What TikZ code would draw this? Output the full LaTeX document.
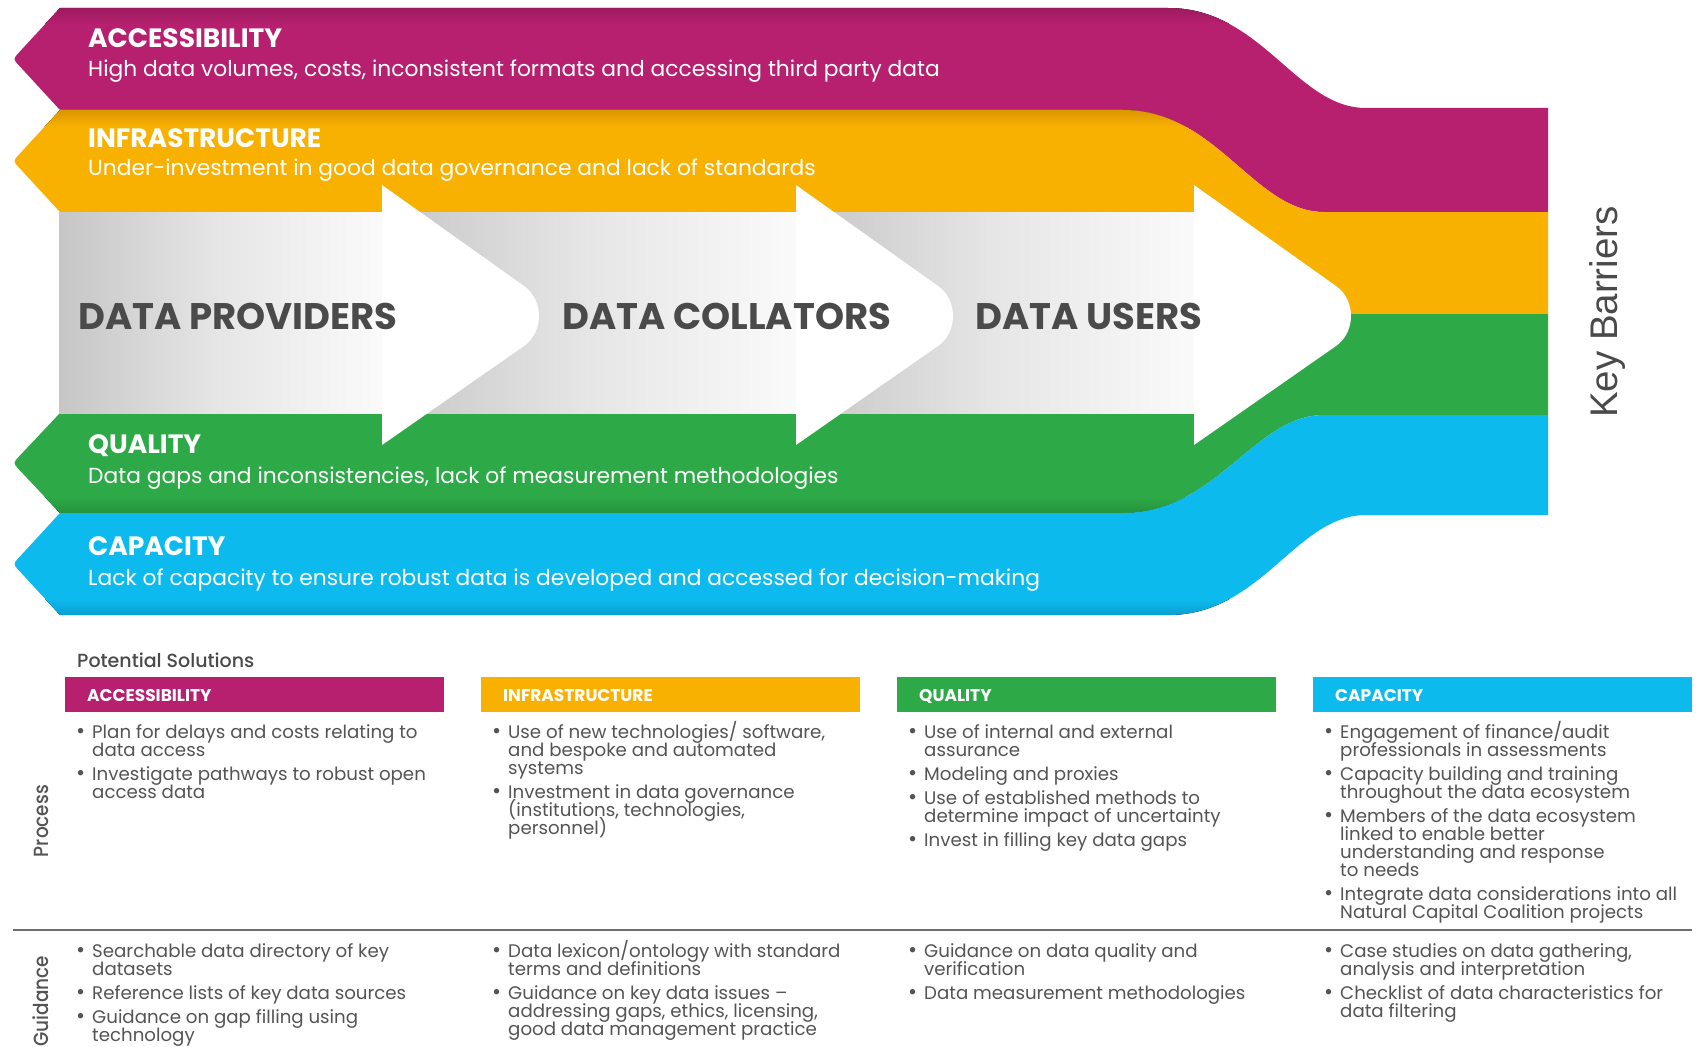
\documentclass[tikz,border=0pt]{standalone}
\usepackage{fontspec}
\setmainfont{Poppins}
\newfontfamily\kbfont{Liberation Sans}
\IfFontExistsTF{Poppins Medium}{\newfontfamily\medf{Poppins Medium}\newfontfamily\medfs{Poppins Medium}[FakeStretch=0.9]}{\newfontfamily\medf{Poppins}[FakeBold=0.6]\newfontfamily\medfs{Poppins}[FakeStretch=0.9,FakeBold=0.6]}
\definecolor{cmag}{HTML}{B6206F}
\definecolor{cmagd}{HTML}{9C1B5F}
\definecolor{cyel}{HTML}{F9B101}
\definecolor{cyeld}{HTML}{DA9700}
\definecolor{cgrn}{HTML}{2DAA47}
\definecolor{cgrnd}{HTML}{25923C}
\definecolor{ccya}{HTML}{0DBAED}
\definecolor{ccyad}{HTML}{0A9FD2}
\definecolor{txtd}{HTML}{4A4A4A}
\definecolor{txtb}{HTML}{545454}
\definecolor{bs0}{HTML}{C6C6C6}
\definecolor{bs2}{HTML}{E6E6E6}
\definecolor{bs3}{HTML}{FAFAFA}
\definecolor{sepc}{HTML}{6E6E6E}
\newcounter{tl}
\newcommand\bulp[1]{\stepcounter{tl}\node[bdotst] (bd\arabic{tl}) at ({\cx+11},#1) {•};}
\newcommand\txl[2]{\stepcounter{tl}\node[btxt] (tl\arabic{tl}) at ({\cx+27},#1) {#2};}
\newcommand\ahead[2]{\fill[white] (#1,185) -- ({#1+142},286) .. controls ({#1+162},300) and ({#1+162},332) .. ({#1+142},346) -- (#1,445) -- cycle;}
\def\pmag{(60,8) -- (1168,8) .. controls (1262,8) and (1296,108) .. (1366,108) -- (1548,108) -- (1548,212) -- (1324,212) .. controls (1254,212) and (1217,110) .. (1123,110) -- (60,110) -- (19.1,65.6) .. controls (13,59) .. (19.1,52.4) -- cycle}
\def\pyel{(60,110) -- (1123,110) .. controls (1217,110) and (1254,212) .. (1324,212) -- (1548,212) -- (1548,314) -- (1194,314) -- (1194,212) -- (60,212) -- (19.1,167.6) .. controls (13,161) .. (19.1,154.4) -- cycle}
\def\pgrn{(60,413) -- (1194,413) -- (1194,314) -- (1548,314) -- (1548,415) -- (1324,415) .. controls (1254,415) and (1217,513) .. (1123,513) -- (60,513) -- (19.1,469.6) .. controls (13,463) .. (19.1,456.4) -- cycle}
\def\pcya{(60,513) -- (1123,513) .. controls (1217,513) and (1254,415) .. (1324,415) -- (1548,415) -- (1548,515) -- (1366,515) .. controls (1296,515) and (1262,615) .. (1168,615) -- (60,615) -- (19.1,570.6) .. controls (13,564) .. (19.1,557.4) -- cycle}
\begin{document}
\begin{tikzpicture}[x=1pt,y=-1pt,
  btitle/.style={anchor=base west, text=white, inner sep=0pt, font=\bfseries\fontsize{26.5}{26.5}\selectfont},
  bsub/.style={anchor=base west, text=white, inner sep=0pt, font=\fontsize{21.8}{21.8}\selectfont},
  actor/.style={anchor=base west, text=txtd, inner sep=0pt, font=\bfseries\fontsize{37}{37}\selectfont},
  hdr/.style={anchor=base west, text=white, inner sep=0pt, font=\bfseries\fontsize{17}{17}\selectfont},
  btxt/.style={anchor=base west, text=txtb, inner sep=0pt, font=\fontsize{18.2}{18.2}\selectfont},
  bdotst/.style={anchor=base west, text=txtb, inner sep=0pt, font=\fontsize{22}{22}\selectfont},
  side/.style={rotate=90, anchor=center, text=txtb, inner sep=0pt, font=\medfs\fontsize{20.5}{20.5}\selectfont}]
\useasboundingbox (0,0) rectangle (1696,1046);
\fill[white] (0,0) rectangle (1696,1046);
% bands
\fill[cmag] \pmag;
\begin{scope}\clip \pmag; \fill[top color=cmagd, bottom color=cmag] (0,8) rectangle (1280,24);\end{scope}
\fill[cyel] \pyel;
\begin{scope}\clip \pyel; \fill[top color=cyeld, bottom color=cyel] (0,110) rectangle (1230,127);\end{scope}
\fill[cgrn] \pgrn;
\begin{scope}\clip \pgrn; \fill[top color=cgrn, bottom color=cgrnd] (0,497) rectangle (1230,513);\end{scope}
\fill[ccya] \pcya;
\begin{scope}\clip \pcya; \fill[top color=ccya, bottom color=ccyad] (0,599) rectangle (1280,615);\end{scope}
% arrow bodies
\fill[left color=bs0, right color=bs3, middle color=bs2] (59,212) rectangle (382,413);
\fill[left color=bs0, right color=bs3, middle color=bs2] (382,212) rectangle (796,413);
\fill[left color=bs0, right color=bs3, middle color=bs2] (796,212) rectangle (1194,413);
% arrow heads
\ahead{382}{a}
\ahead{796}{b}
\ahead{1194}{c}
% band texts
\node[btitle] (accT) at (88,48) {ACCESSIBILITY};
\node[bsub] (accS) at (88,77) {High data volumes, costs, inconsistent formats and accessing third party data};
\node[btitle] (infT) at (88,147) {INFRASTRUCTURE};
\node[bsub] (infS) at (88,175) {Under-investment in good data governance and lack of standards};
\node[btitle] (quaT) at (88,453) {QUALITY};
\node[bsub] (quaS) at (88,483) {Data gaps and inconsistencies, lack of measurement methodologies};
\node[btitle] (capT) at (88,555) {CAPACITY};
\node[bsub] (capS) at (88,585) {Lack of capacity to ensure robust data is developed and accessed for decision-making};
% actors
\node[actor] (prov) at (78,329) {DATA PROVIDERS};
\node[actor] (coll) at (562,329) {DATA COLLATORS};
\node[actor] (user) at (975,329) {DATA USERS};
% key barriers
\node[rotate=90, anchor=center, text=txtd, inner sep=0pt, font=\kbfont\fontsize{38.5}{38.5}\selectfont] (kb) at (1608,312) {Key Barriers};
% solutions
\node[anchor=base west, text=txtd, inner sep=0pt, font=\medf\fontsize{19}{19}\selectfont] (ps) at (77,667) {Potential Solutions};
\fill[cmag] (65,677) rectangle (444,712);
\fill[cyel] (481,677) rectangle (860,712);
\fill[cgrn] (897,677) rectangle (1276,712);
\fill[ccya] (1313,677) rectangle (1692,712);
\node[hdr] (h1) at (87,701) {ACCESSIBILITY};
\node[hdr] (h2) at (503,701) {INFRASTRUCTURE};
\node[hdr] (h3) at (919,701) {QUALITY};
\node[hdr] (h4) at (1335,701) {CAPACITY};
\coordinate (sepL) at (13,930);
\coordinate (sepR) at (1692,930);
\draw[sepc, line width=1.6pt] (sepL) -- (sepR);
\node[side] (proc) at (41,821) {Process};
\node[side] (guid) at (41,1001) {Guidance};
% column 1
\def\cx{65}
\bulp{738}\txl{738}{Plan for delays and costs relating to}\txl{756}{data access}
\bulp{780}\txl{780}{Investigate pathways to robust open}\txl{798}{access data}
\bulp{957}\txl{957}{Searchable data directory of key}\txl{975}{datasets}
\bulp{999}\txl{999}{Reference lists of key data sources}
\bulp{1023}\txl{1023}{Guidance on gap filling using}\txl{1041}{technology}
% column 2
\def\cx{481}
\bulp{738}\txl{738}{Use of new technologies/ software,}\txl{756}{and bespoke and automated}\txl{774}{systems}
\bulp{798}\txl{798}{Investment in data governance}\txl{816}{(institutions, technologies,}\txl{834}{personnel)}
\bulp{957}\txl{957}{Data lexicon/ontology with standard}\txl{975}{terms and definitions}
\bulp{999}\txl{999}{Guidance on key data issues –}\txl{1017}{addressing gaps, ethics, licensing,}\txl{1035}{good data management practice}
% column 3
\def\cx{897}
\bulp{738}\txl{738}{Use of internal and external}\txl{756}{assurance}
\bulp{780}\txl{780}{Modeling and proxies}
\bulp{804}\txl{804}{Use of established methods to}\txl{822}{determine impact of uncertainty}
\bulp{846}\txl{846}{Invest in filling key data gaps}
\bulp{957}\txl{957}{Guidance on data quality and}\txl{975}{verification}
\bulp{999}\txl{999}{Data measurement methodologies}
% column 4
\def\cx{1313}
\bulp{738}\txl{738}{Engagement of finance/audit}\txl{756}{professionals in assessments}
\bulp{780}\txl{780}{Capacity building and training}\txl{798}{throughout the data ecosystem}
\bulp{822}\txl{822}{Members of the data ecosystem}\txl{840}{linked to enable better}\txl{858}{understanding and response}\txl{876}{to needs}
\bulp{900}\txl{900}{Integrate data considerations into all}\txl{918}{Natural Capital Coalition projects}
\bulp{957}\txl{957}{Case studies on data gathering,}\txl{975}{analysis and interpretation}
\bulp{999}\txl{999}{Checklist of data characteristics for}\txl{1017}{data filtering}
\end{tikzpicture}
\end{document}
